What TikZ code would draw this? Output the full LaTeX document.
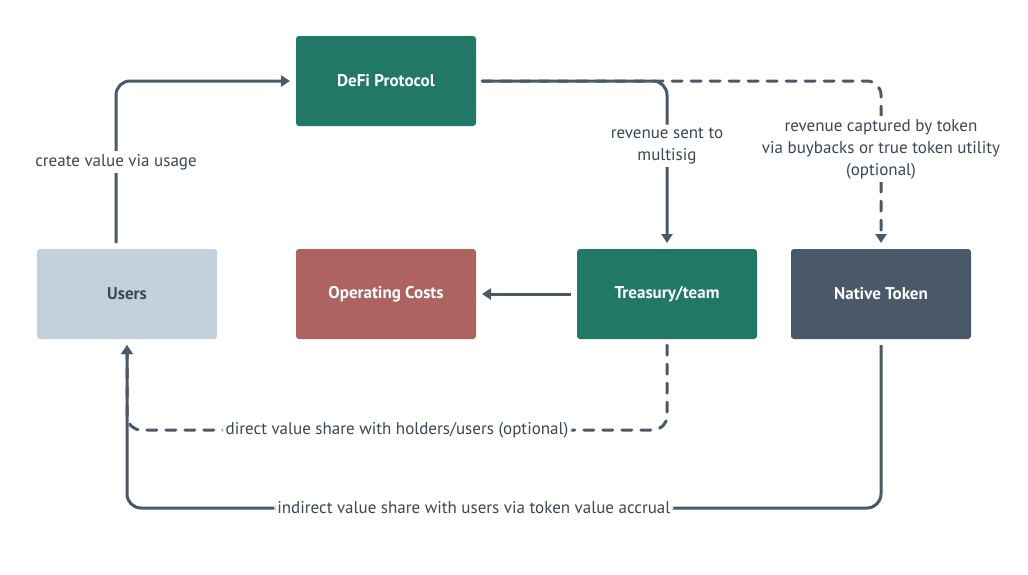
\documentclass[tikz,border=0pt]{standalone}
\usepackage{fontspec}
\setmainfont{PT Sans}
\usetikzlibrary{arrows.meta,positioning}
\definecolor{protogreen}{HTML}{217867}
\definecolor{usersblue}{HTML}{C4D1DC}
\definecolor{costred}{HTML}{AD6461}
\definecolor{slate}{HTML}{4A5968}
\definecolor{slatedark}{HTML}{3A4756}

\begin{document}
\begin{tikzpicture}[
    x=1pt, y=-1pt,
    box/.style={rounded corners=3pt, text=white, align=center, minimum width=180pt, minimum height=90pt, outer sep=6pt, font=\fontsize{17}{20}\selectfont\bfseries},
    flow/.style={line width=3pt, draw=slate, rounded corners=14pt, -{Triangle[length=9pt,width=11pt]}},
    optflow/.style={flow, line cap=round, dash pattern=on 10pt off 9pt},
    lbl/.style={fill=white, text=slatedark, align=center, inner sep=3pt, font=\fontsize{17}{22}\selectfont}
  ]
    \useasboundingbox[fill=white] (0,0) rectangle (1028,574);

    \node[box, fill=usersblue, text=slatedark] (users) at (127,294) {Users};
    \node[box, fill=costred] (costs) at (386,294) {Operating Costs};
    \node[box, fill=protogreen] (treasury) at (667,294) {Treasury/team};
    \node[box, fill=slate] (token) at (881,294) {Native Token};
    \node[box, fill=protogreen] (defi) at (386,81) {DeFi Protocol};

    \draw[flow] ([xshift=-11pt]users.north) |- node[lbl, pos=0.25] {create value via usage} (defi.west);
    \draw[optflow] (defi.east) -| node[lbl, pos=0.71] {revenue captured by token\\via buybacks or true token utility\\(optional)} (token.north);
    \draw[flow] (defi.east) -| node[lbl, pos=0.70] {revenue sent to\\multisig} (treasury.north);
    \draw[flow] (treasury.west) -- (costs.east);
    \draw[optflow] (treasury.south) -- ++(0,85) -| node[lbl, pos=0.25] {direct value share with holders/users (optional)} (users.south);
    \draw[flow] (token.south) -- ++(0,163) -| node[lbl, pos=0.27] {indirect value share with users via token value accrual} (users.south);
  \end{tikzpicture}
\end{document}
